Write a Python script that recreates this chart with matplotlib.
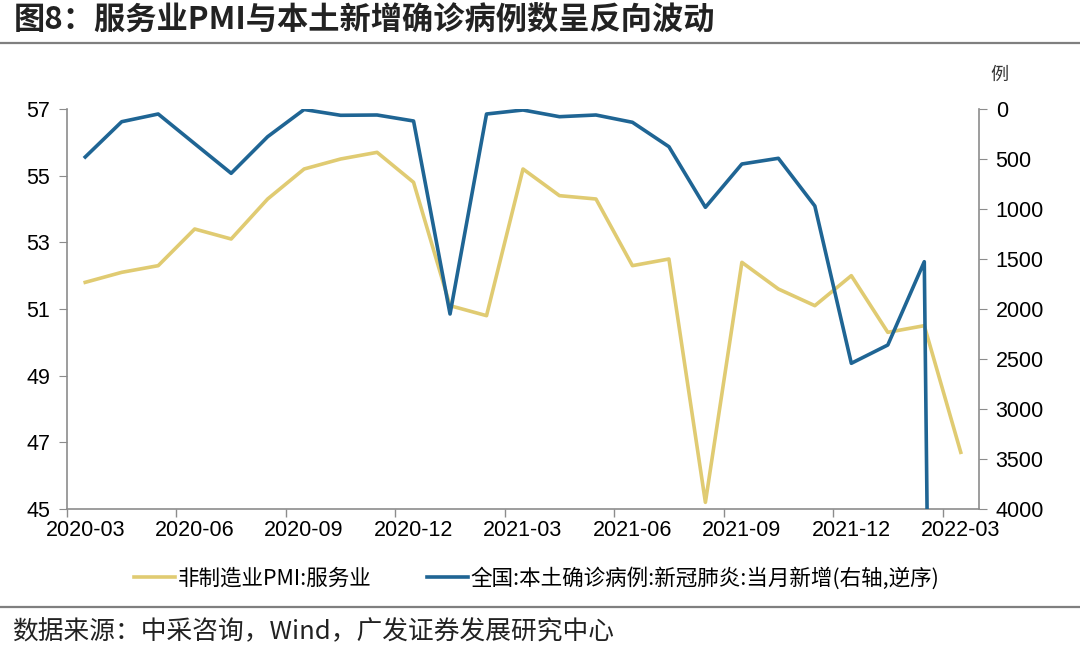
import matplotlib.pyplot as plt
import matplotlib
from matplotlib.lines import Line2D

matplotlib.rcParams["font.family"] = ["Liberation Sans", "Noto Sans CJK SC"]
matplotlib.rcParams["axes.unicode_minus"] = False

CJK = ["Noto Sans CJK SC", "DejaVu Sans"]

months = [
    "2020-03", "2020-04", "2020-05", "2020-06", "2020-07", "2020-08", "2020-09",
    "2020-10", "2020-11", "2020-12", "2021-01", "2021-02", "2021-03", "2021-04",
    "2021-05", "2021-06", "2021-07", "2021-08", "2021-09", "2021-10", "2021-11",
    "2021-12", "2022-01", "2022-02", "2022-03",
]
pmi_services = [
    51.8, 52.1, 52.3, 53.4, 53.1, 54.3, 55.2, 55.5, 55.7, 54.8, 51.1, 50.8,
    55.2, 54.4, 54.3, 52.3, 52.5, 45.2, 52.4, 51.6, 51.1, 52.0, 50.3, 50.5, 46.7,
]
local_cases = [
    480, 127, 50, 347, 643, 277, 5, 63, 60, 120, 2050, 50,
    10, 77, 60, 133, 377, 983, 550, 493, 970, 2543, 2360, 1527, 34000,
]
label_every = 3

PMI_COLOR = "#E0CB72"
CASE_COLOR = "#1F6594"
AXIS_COLOR = "#8C8C8C"

fig = plt.figure(figsize=(10.8, 6.48), dpi=100)
ax = fig.add_axes([67 / 1080, 1 - 509 / 648, (979 - 67) / 1080, 400 / 648])
ax2 = ax.twinx()

x = list(range(len(months)))
l1, = ax.plot(x, pmi_services, color=PMI_COLOR, lw=2.6, label="非制造业PMI:服务业")
l2, = ax2.plot(x, local_cases, color=CASE_COLOR, lw=2.6,
               label="全国:本土确诊病例:新冠肺炎:当月新增(右轴,逆序)")

ax.set_xlim(-0.5, len(months) - 0.5)
ax.set_ylim(45, 57)
ax.set_yticks(range(45, 58, 2))
ax2.set_ylim(4000, 0)
ax2.set_yticks(range(0, 4001, 500))

# category axis: ticks between months, labels on the months
ax.set_xticks([i - 0.5 for i in range(0, len(months), label_every)])
ax.set_xticklabels([])
ax.set_xticks(list(range(0, len(months), label_every)), minor=True)
ax.set_xticklabels(months[::label_every], minor=True)
ax.tick_params(axis="x", which="minor", length=0, pad=8, labelsize=15.5)
ax.tick_params(axis="x", which="major", length=6, color=AXIS_COLOR, width=1)
ax.tick_params(axis="y", length=6, color=AXIS_COLOR, labelsize=15.5, pad=6)
ax2.tick_params(axis="y", length=6, color=AXIS_COLOR, labelsize=15.5, pad=6)

for a in (ax, ax2):
    a.spines["top"].set_visible(False)
    for s in ("left", "right", "bottom"):
        a.spines[s].set_color(AXIS_COLOR)
        a.spines[s].set_linewidth(1.2)
ax.spines["right"].set_visible(False)
ax2.spines["left"].set_visible(False)
ax2.spines["bottom"].set_visible(False)

fig.text(0.925, 1 - 75 / 648, "例", family=CJK, fontsize=13, ha="center", va="center",
         color="#333333")

fig.text(14 / 1080, 1 - 20 / 648, "图8：服务业PMI与本土新增确诊病例数呈反向波动",
         family=CJK, fontsize=22.5, fontweight="bold", ha="left", va="center", color="#222222")
fig.add_artist(Line2D([0, 1], [1 - 43 / 648] * 2, color="#7F7F7F", lw=1.6))
fig.add_artist(Line2D([0, 1], [1 - 607 / 648] * 2, color="#7F7F7F", lw=1.6))

fig.legend(handles=[l1, l2], loc="center", bbox_to_anchor=(0.497, 1 - 578 / 648), ncol=2,
           frameon=False, prop={"family": CJK, "size": 15.5}, handlelength=1.9,
           handletextpad=0.1, columnspacing=2.6)

fig.text(12 / 1080, 1 - 632 / 648, "数据来源：中采咨询，Wind，广发证券发展研究中心",
         family=CJK, fontsize=18.5, ha="left", va="center", color="#222222")

fig.savefig("out.png", dpi=100)
